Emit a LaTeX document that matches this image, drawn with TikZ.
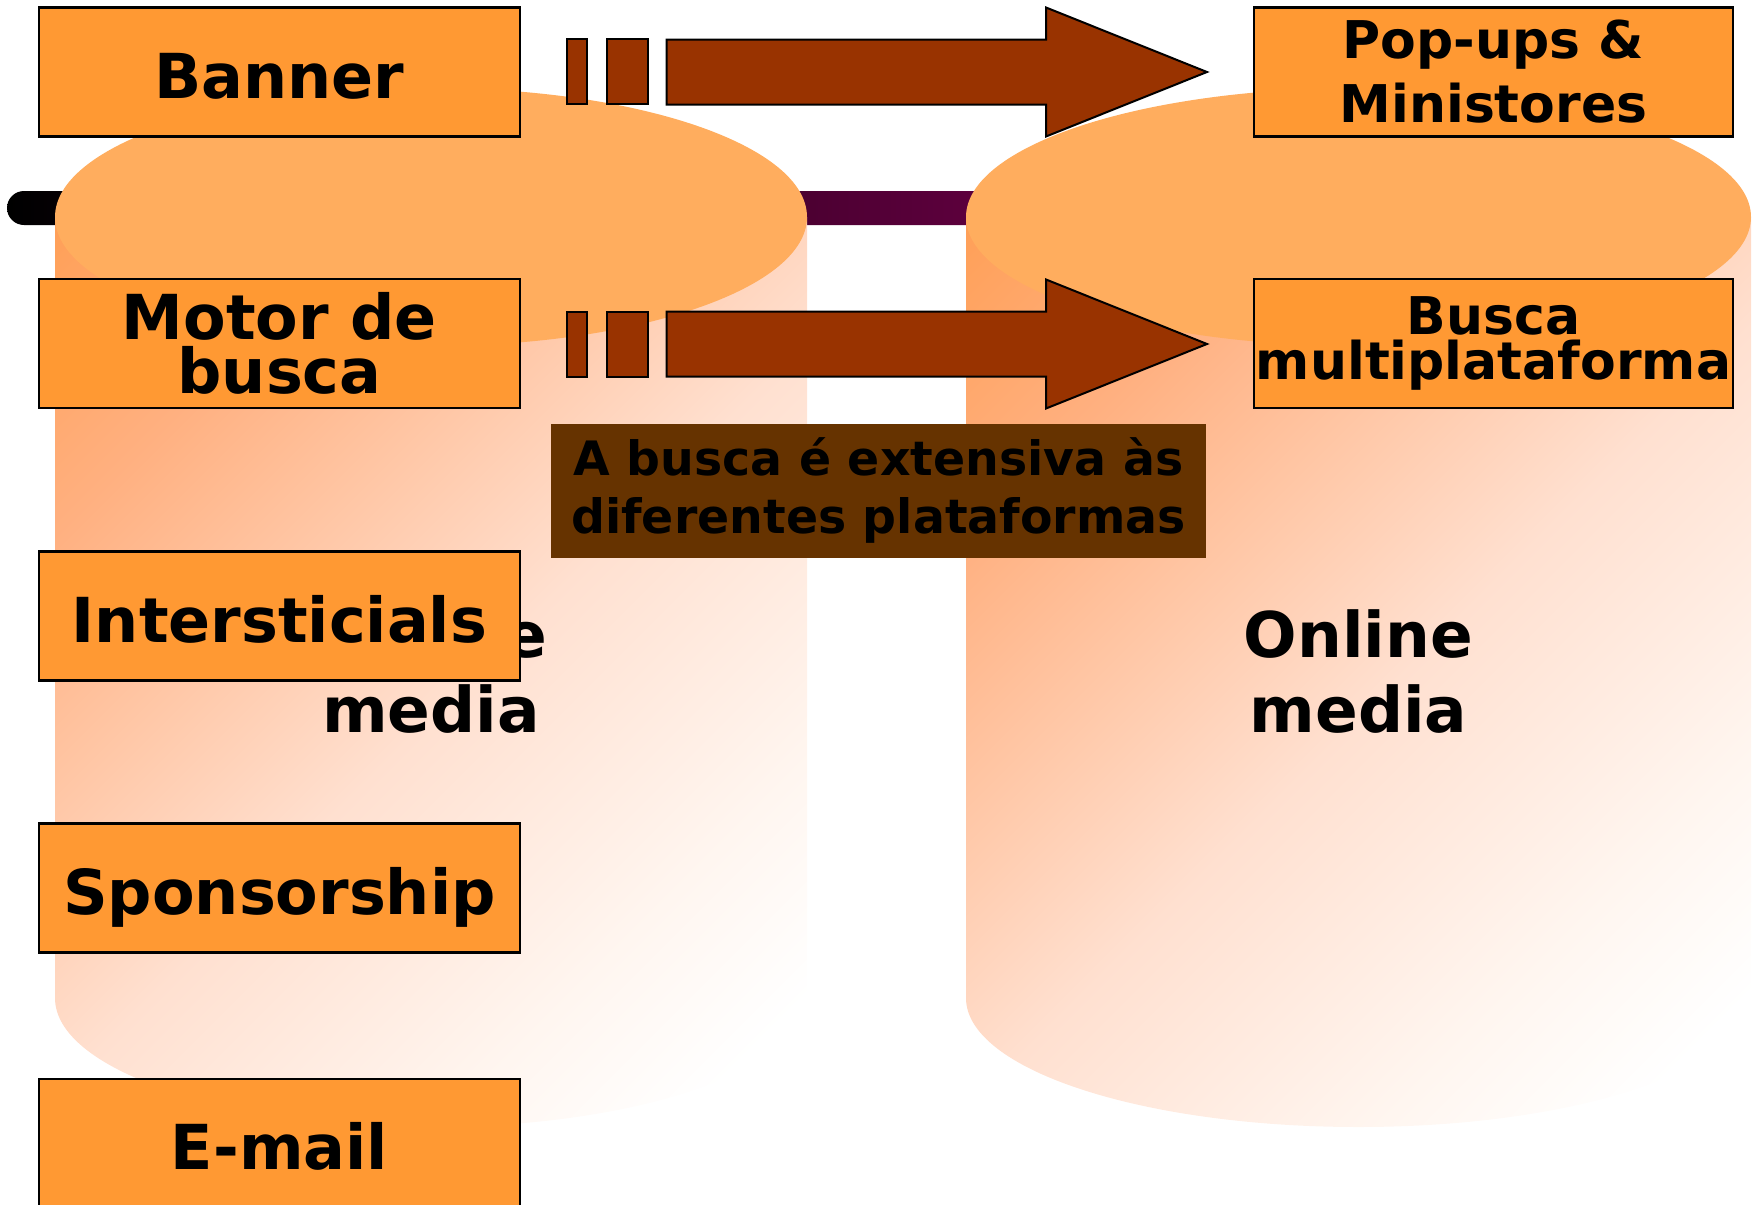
\documentclass[tikz,border=0pt]{standalone}
\usepackage{fontspec}
\setmainfont{DejaVu Sans}
\usetikzlibrary{positioning}

\definecolor{boxorange}{RGB}{255,153,51}
\definecolor{arrowbrown}{RGB}{153,51,0}
\definecolor{notebrown}{RGB}{102,51,0}
\definecolor{captop}{RGB}{255,173,94}
\definecolor{barpurple}{RGB}{95,0,62}
\pgfdeclareverticalshading{canfade}{100bp}{color(0bp)=(white); color(20bp)=(white);
  color(30bp)=(rgb,255:red,255;green,246;blue,240); color(48bp)=(rgb,255:red,255;green,224;blue,208);
  color(60bp)=(rgb,255:red,255;green,200;blue,168); color(72bp)=(rgb,255:red,255;green,176;blue,128);
  color(85bp)=(rgb,255:red,255;green,160;blue,88); color(100bp)=(rgb,255:red,255;green,160;blue,88)}

\begin{document}
\begin{tikzpicture}[x=0.5pt,y=0.5pt,yscale=-1,xscale=1,
  mediabox/.style={draw=black,line width=1.3pt,fill=boxorange,minimum width=240.5pt,minimum height=64.5pt,inner sep=0pt,font=\fontsize{31}{27}\selectfont\bfseries},
  linebox/.style={mediabox,text height=28pt,text depth=2pt},
  sidebox/.style={mediabox,minimum width=239.5pt},
  notebox/.style={fill=notebrown,minimum width=327.5pt,minimum height=67pt,inner sep=0pt,align=center,font=\fontsize{23.7}{29}\selectfont\bfseries},
  medialabel/.style={inner sep=0pt,align=center,font=\fontsize{31.5}{37.5}\selectfont\bfseries},
  canbody/.style={shading=canfade,shading angle=45},
  blockarrow/.style={draw=black,line width=1pt,fill=arrowbrown}]
\useasboundingbox (0,0) rectangle (1752,1205);

%Shape: faint shadow behind right cylinder
\shade [left color=white,middle color=black!9,right color=white] (1300,175) ellipse [x radius=420,y radius=133];
%Shape: bar
\shade [left color=black,right color=barpurple,rounded corners=8.5pt] (7,191) rectangle (1000,225);

%Shape: Can (left)
\shade [canbody] (55,217) -- (55,998) arc [start angle=180,end angle=0,x radius=376,y radius=129] -- (807,217) -- cycle;
\fill [captop] (431,217) ellipse [x radius=376,y radius=129];
%Shape: Can (right)
\shade [canbody] (966,217) -- (966,998) arc [start angle=180,end angle=0,x radius=392.5,y radius=129] -- (1751,217) -- cycle;
\fill [captop] (1358.5,217) ellipse [x radius=392.5,y radius=129];

% Text Node
\node (offline) at (431,672) [medialabel] {Offline\\media};
% Text Node
\node (online) at (1358.5,672) [medialabel] {Online\\media};

%Shape: Rectangle
\node (banner) at (279.5,72) [linebox] {Banner};
%Shape: Rectangle
\node (motor) at (279.5,343.5) [mediabox,align=center] {Motor de\\busca};
%Shape: Rectangle
\node (inters) at (279.5,616) [linebox] {Intersticials};
%Shape: Rectangle
\node (spons) at (279.5,888) [linebox] {Sponsorship};
%Shape: Rectangle
\node (email) at (279.5,1143.5) [linebox] {E-mail};

%Shape: Rectangle
\node (popups) at (1493.5,72) [sidebox,align=center,font=\fontsize{26}{32}\selectfont\bfseries] {Pop-ups \&\\Ministores};
%Shape: Rectangle
\node (busca) at (1493.5,343.5) [sidebox,align=center,font=\fontsize{26}{22.5}\selectfont\bfseries] {Busca\\multiplataforma};

%Shape: Rectangle
\draw [blockarrow] (566.6,39.3) rectangle (587.3,104.3);
\draw [blockarrow] (606.8,39.3) rectangle (647.5,104.3);
%Right Arrow
\draw [blockarrow] (666.5,39.5) -- (1046,39.5) -- (1046,7.5) -- (1207,72) -- (1046,136.5) -- (1046,104.5) -- (666.5,104.5) -- cycle;

%Shape: Rectangle
\draw [blockarrow] (566.6,311.7) rectangle (587.3,376.7);
\draw [blockarrow] (606.8,311.7) rectangle (647.5,376.7);
%Right Arrow
\draw [blockarrow] (666.5,311.5) -- (1046,311.5) -- (1046,279.5) -- (1207,344) -- (1046,408.5) -- (1046,376.5) -- (666.5,376.5) -- cycle;

% Text Node
\node (note) at (878.5,490.5) [notebox] {A busca é extensiva às\\diferentes plataformas};

\end{tikzpicture}
\end{document}
